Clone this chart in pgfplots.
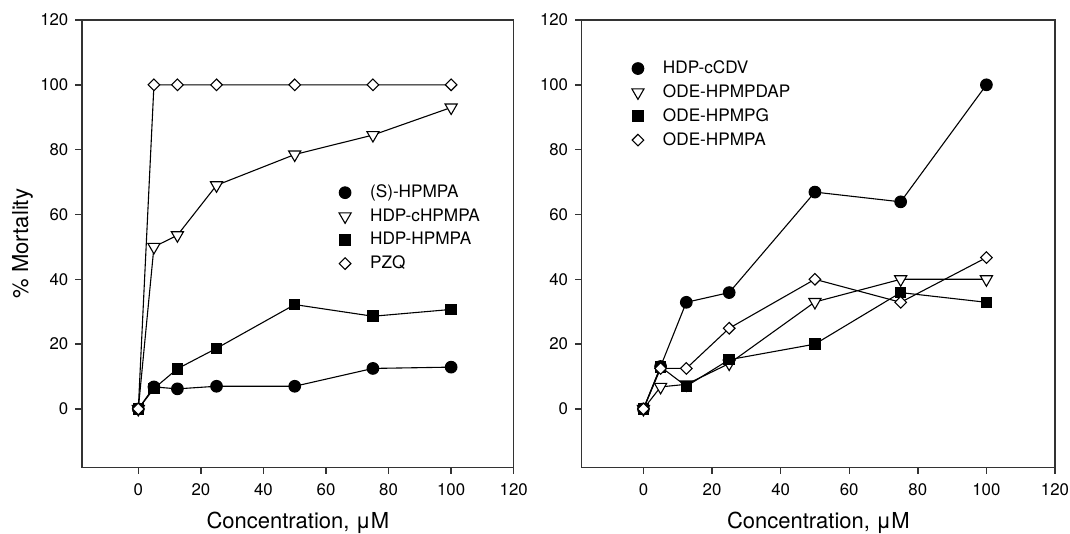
\documentclass[border=0pt]{standalone}
\usepackage{fontspec}
\setmainfont{TeX Gyre Heros}
\usepackage{pgfplots}
\pgfplotsset{compat=1.18}

\newcommand\lgtext[1]{\hspace*{5.5pt}#1}

\pgfplotsset{
  mort/.style={
    scale only axis, anchor=south west,
    height=223.65pt,
    xmin=-18, xmax=120, ymin=-18, ymax=120,
    xtick={0,20,...,120}, ytick={0,20,...,120},
    tick align=outside, xtick pos=left, ytick pos=left,
    major tick length=3.3pt,
    axis line style={black!80, line width=0.7pt},
    tick style={black!80, line width=0.7pt},
    tick label style={font=\fontsize{8.4}{9}\selectfont},
    xticklabel style={yshift=-1.5pt},
    label style={font=\fontsize{11}{13}\selectfont},
    /pgf/number format/assume math mode=true,
    every axis plot/.append style={black, line width=0.55pt},
    legend style={draw=none, fill=none, font=\fontsize{8.6}{10}\selectfont,
      inner sep=0pt, outer sep=0pt, row sep=0pt, cells={anchor=west}},
    legend image code/.code={\path[draw=none] (0pt,0pt) -- (10pt,0pt);
      \draw[#1,only marks] plot coordinates {(5pt,0pt)};},
    xlabel={Concentration, μM},
    xlabel style={at={(axis description cs:0.5,-0.125)}, anchor=center},
  },
  circ/.style={mark=*, mark size=2.9pt, mark options={fill=black, solid}},
  tri/.style={mark=triangle*, mark size=3.5pt, mark options={rotate=180, fill=white, solid}},
  sq/.style={mark=square*, mark size=2.6pt, mark options={fill=black, solid}},
  dia/.style={mark=square*, mark size=2.05pt, mark options={rotate=45, fill=white, solid}},
}

\begin{document}
\begin{tikzpicture}
\path[use as bounding box] (0,0) rectangle (535pt,267pt);

\begin{axis}[mort, at={(41pt,33.35pt)}, width=215.85pt,
  ylabel={\% Mortality},
  ylabel style={at={(axis description cs:-0.138,0.5)}, anchor=center},
  legend style={at={(axis cs:66.1,66.7)}, anchor=north west, xshift=-5pt, yshift=6pt}]
\addplot[circ] coordinates {(0,0) (5,6.8) (12.5,6.2) (25,7) (50,7) (75,12.5) (100,12.9)};
\addlegendentry{\lgtext{(S)-HPMPA}}
\addplot[tri] coordinates {(0,0) (5,50) (12.5,53.6) (25,69) (50,78.5) (75,84.5) (100,93)};
\addlegendentry{\lgtext{HDP-cHPMPA}}
\addplot[sq] coordinates {(0,0) (5,6.3) (12.5,12.4) (25,18.7) (50,32.2) (75,28.6) (100,30.7)};
\addlegendentry{\lgtext{HDP-HPMPA}}
\addplot[dia] coordinates {(0,0) (5,100) (12.5,100) (25,100) (50,100) (75,100) (100,100)};
\addlegendentry{\lgtext{PZQ}}
\end{axis}

\begin{axis}[mort, at={(290.85pt,33.35pt)}, width=236.65pt,
  legend style={at={(axis cs:-1.6,105)}, anchor=north west, xshift=-5pt, yshift=6pt}]
\addplot[circ] coordinates {(0,0) (5,13.1) (12.5,32.9) (25,35.9) (50,66.9) (75,63.9) (100,100)};
\addlegendentry{\lgtext{HDP-cCDV}}
\addplot[tri] coordinates {(0,0) (5,6.8) (12.5,7.6) (25,14) (50,33) (75,40) (100,40)};
\addlegendentry{\lgtext{ODE-HPMPDAP}}
\addplot[sq] coordinates {(0,0) (5,13) (12.5,7) (25,15.2) (50,20) (75,35.9) (100,32.9)};
\addlegendentry{\lgtext{ODE-HPMPG}}
\addplot[dia] coordinates {(0,0) (5,12.5) (12.5,12.5) (25,24.9) (50,40) (75,32.9) (100,46.7)};
\addlegendentry{\lgtext{ODE-HPMPA}}
\end{axis}
\end{tikzpicture}
\end{document}
